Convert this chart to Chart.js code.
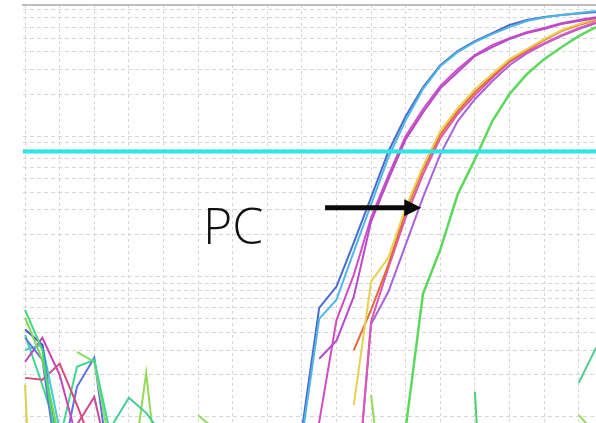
<!DOCTYPE html>
<html>
<head>
<meta charset="utf-8">
<script src="https://cdn.jsdelivr.net/npm/chart.js@4.4.0/dist/chart.umd.min.js"></script>
<style>
  html, body { margin: 0; padding: 0; background: #fff; overflow: hidden; }
  #wrap { position: relative; width: 596px; height: 423px; }
  #pc-label {
    position: absolute; left: 203px; top: 200px;
    font-family: 'Open Sans', 'Noto Sans', sans-serif; font-weight: 300;
    font-size: 50px; line-height: 1; color: #111;
  }
</style>
</head>
<body>
<div id="wrap">
  <canvas id="amp-chart-js" width="596" height="423"></canvas>
  <div id="pc-label">PC</div>
</div>
<script>
// amplification plot, log scale (dRn), x = cycle
const xTicks = [2, 4, 6, 8, 10, 12, 14, 16, 18, 20, 22, 24, 26, 28, 30, 32, 34];
const yTicks = [
  0.004, 0.005, 0.006, 0.007, 0.008, 0.009,
  0.01, 0.02, 0.03, 0.04, 0.05, 0.06, 0.07, 0.08, 0.09,
  0.1, 0.2, 0.3, 0.4, 0.5, 0.6, 0.7, 0.8, 0.9,
  1, 2, 3, 4, 5, 6, 7, 8
];
const threshold = 0.78;
const thresholdCycles = [1, 36];

// sample curves: first value is at the start cycle, one value per cycle after that
const blue      = [0.0081, 0.060, 0.085, 0.175, 0.367, 0.78, 1.39, 2.24, 3.21, 4.05, 4.77, 5.44, 6.21, 6.74, 7.08, 7.31, 7.50, 7.69];
const lightBlue = [0.0070, 0.050, 0.0685, 0.151, 0.327, 0.708, 1.30, 2.17, 3.16, 3.98, 4.69, 5.35, 6.0, 6.63, 7.02, 7.31, 7.56, 7.81];
const magenta1  = [0.026, 0.035, 0.072, 0.247, 0.493, 0.952, 1.48, 2.20, 2.86, 3.73, 4.32, 4.93, 5.44, 5.81, 6.31, 6.63, 6.96];
const magenta2  = [0.003, 0.0092, 0.049, 0.103, 0.264, 0.527, 1.0, 1.56, 2.28, 3.01, 3.79, 4.47, 5.01, 5.53, 5.91, 6.4, 6.75, 7.05];
const orange    = [0.030, 0.058, 0.122, 0.291, 0.581, 1.03, 1.51, 2.06, 2.68, 3.43, 4.1, 4.85, 5.63, 6.2, 6.74];
const yellow    = [0.0122, 0.092, 0.137, 0.311, 0.611, 1.09, 1.58, 2.17, 2.78, 3.55, 4.18, 4.93, 5.7, 6.3, 6.9];
const pink      = [0.0016, 0.048, 0.116, 0.264, 0.535, 0.968, 1.44, 1.96, 2.60, 3.38, 4.0, 4.6, 5.27, 5.91, 6.52];
const purple    = [0.0016, 0.046, 0.078, 0.169, 0.367, 0.744, 1.28, 1.84, 2.47, 3.21, 3.9, 4.55, 5.18, 5.81, 6.41];
const green     = [0.001, 0.0083, 0.0756, 0.156, 0.385, 0.685, 1.28, 2.0, 2.77, 3.55, 4.32, 5.18, 6.0];

// negative wells (noise), gaps where the value is below zero
const noise1  = [0.058, 0.030, 0.0042];
const noise2  = [0.0509, 0.0255, 0.0069];
const noise3  = [0.042, 0.0327, 0.0042];
const noise4  = [0.0367, 0.0255, 0.0035];
const noise5  = [0.030, 0.0327, 0.0081];
const noise6  = [0.0247, 0.0367, 0.020, 0.0069];
const noise7  = [0.019, 0.0184, 0.024, 0.0122, 0.0058];
const noise8  = [0.017, 0.00005];
const noise9  = [0.0385, 0.0169, 0.0069, 0.0228, 0.0255, 0.0069];
const noise10 = [0.0291, 0.0247, 0.0054];
const noise11 = [0.0042, 0.0164, 0.0264, 0.0032];
const noise12 = [0.0088, 0.0139, 0.0040];
const noise13 = [0.0086, 0.0137, 0.0107, 0.0073];
const noise14 = [0.0026, 0.0206, 0.0016];
const noise15 = [0.0103, 0.0081];
const noise16 = [0.0144, 0.0012];
const noise17 = [0.0151, 0.0001];
const noise18 = [0.0175, 0.0311];
const noise19 = [0.0103, 0.0076];

// PC arrow (cycle from, cycle to, level)
const arrowTail = 19.34;
const arrowTip = 24.9;
const arrowLevel = 0.31;

function curve(values, startCycle, color, width) {
  return {
    data: values.map((v, i) => ({ x: startCycle + i, y: v })),
    borderColor: color,
    borderWidth: width,
    pointRadius: 0,
    tension: 0,
    fill: false,
  };
}

const datasets = [
  {
    data: thresholdCycles.map(c => ({ x: c, y: threshold })),
    borderColor: '#2fe6e6',
    borderWidth: 4,
    pointRadius: 0,
  },
  curve(lightBlue, 18, '#4fb6e6', 2),
  curve(blue, 18, '#4a6ad2', 2),
  curve(magenta1, 19, '#b44ccc', 2),
  curve(magenta2, 18, '#d24cc2', 2),
  curve(yellow, 21, '#e6d250', 2),
  curve(orange, 21, '#e8683a', 2),
  curve(pink, 21, '#dc58b4', 2),
  curve(purple, 21, '#a862dc', 2),
  curve(green, 23, '#5cd85c', 2.5),
  curve(noise1, 2, '#3ddc78', 2),
  curve(noise2, 2, '#80d850', 2),
  curve(noise3, 2, '#5a50d0', 2),
  curve(noise4, 2, '#6a70e0', 2),
  curve(noise5, 2, '#48c8d8', 2),
  curve(noise6, 2, '#c844b8', 2),
  curve(noise7, 2, '#d84a78', 2),
  curve(noise8, 2, '#dcd048', 2),
  curve(noise9, 2, '#40d890', 2),
  curve(noise10, 5, '#88dc60', 2),
  curve(noise11, 4, '#5a72e0', 2),
  curve(noise12, 5, '#c84c98', 2),
  curve(noise13, 7, '#44cc98', 2),
  curve(noise14, 8, '#94da58', 2),
  curve(noise15, 12, '#94da58', 2),
  curve(noise16, 22, '#94da58', 2),
  curve(noise17, 28, '#50cc78', 2),
  curve(noise18, 34, '#48cc90', 2),
  curve(noise19, 34, '#94da58', 2),
];

const arrowPlugin = {
  id: 'pcArrow',
  afterDatasetsDraw(chart) {
    const { ctx, scales: { x, y } } = chart;
    const x0 = x.getPixelForValue(arrowTail);
    const x1 = x.getPixelForValue(arrowTip);
    const yy = y.getPixelForValue(arrowLevel);
    const head = 17;
    ctx.save();
    ctx.strokeStyle = '#0a0a0a';
    ctx.fillStyle = '#0a0a0a';
    ctx.lineWidth = 5;
    ctx.beginPath();
    ctx.moveTo(x0, yy);
    ctx.lineTo(x1 - head + 2, yy);
    ctx.stroke();
    ctx.beginPath();
    ctx.moveTo(x1, yy);
    ctx.lineTo(x1 - head, yy - 8.5);
    ctx.lineTo(x1 - head, yy + 8.5);
    ctx.closePath();
    ctx.fill();
    ctx.restore();
  }
};

const ampChart = document.getElementById('amp-chart-js').getContext('2d');

new Chart(ampChart, {
  type: 'line',
  data: { datasets: datasets },
  options: {
    responsive: false,
    animation: false,
    layout: { padding: { left: 23, top: 5, right: 0, bottom: 0 } },
    plugins: {
      legend: { display: false },
      tooltip: { enabled: false }
    },
    interaction: { mode: null },
    scales: {
      x: {
        type: 'linear',
        min: 1.88,
        max: 35.0,
        afterBuildTicks: axis => { axis.ticks = xTicks.map(v => ({ value: v })); },
        ticks: { display: false },
        grid: { color: '#d6d6d6', lineWidth: 1, drawTicks: false },
        border: { display: false, dash: [3, 3] }
      },
      xTop: {
        type: 'linear',
        position: 'top',
        min: 1.88,
        max: 35.0,
        ticks: { display: false },
        grid: { display: false, drawTicks: false },
        border: { display: true, color: '#bcbcbc', width: 2 }
      },
      y: {
        type: 'logarithmic',
        min: 0.00906,
        max: 8.63,
        afterBuildTicks: axis => { axis.ticks = yTicks.map(v => ({ value: v })); },
        ticks: { display: false },
        grid: { color: '#d6d6d6', lineWidth: 1, drawTicks: false },
        border: { display: false, dash: [4, 3] }
      }
    }
  },
  plugins: [arrowPlugin]
});
</script>
</body>
</html>
